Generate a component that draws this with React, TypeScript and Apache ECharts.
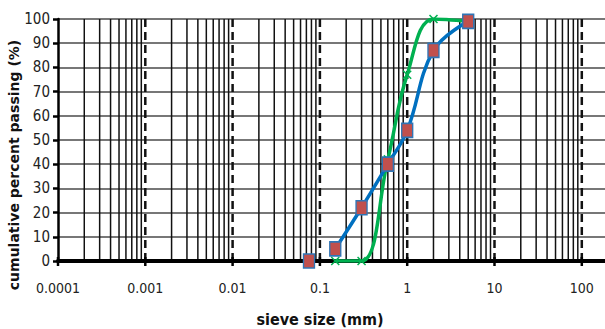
import React, { useEffect, useRef } from "react";
import * as echarts from "echarts";

// Blue curve (squares)
const sieveBlue = [0.15, 0.3, 0.6, 1, 2, 5];
const passBlue = [5, 22, 40, 54, 87, 99];
// Isolated blue point (not connected)
const sieveBlueLone = [0.075];
const passBlueLone = [0];
// Green curve (x markers)
const sieveGreen = [0.15, 0.3, 0.6, 1, 2, 5];
const passGreen = [0, 0, 42, 77, 100, 99];

const yTicks = { min: 0, max: 100, interval: 10 };
const decades = [0.0001, 0.001, 0.01, 0.1, 1, 10, 100];
const minorMultipliers = [2, 3, 4, 5, 6, 7, 8, 9];

const narrow = "'Liberation Sans Narrow', 'DejaVu Sans Condensed', sans-serif";

export default function App() {
  const ref = useRef<HTMLDivElement>(null);
  useEffect(() => {
    if (!ref.current) return;
    const chart = echarts.init(ref.current, null, { renderer: "svg" });

    // [value, y(unused), kind] kind: 0 minor gridline, 1 decade gridline, 2 decade tick only
    const gridData: number[][] = [];
    decades.forEach((d, i) => {
      if (i > 0) gridData.push([d, 50, 1]);
      gridData.push([d, 50, 2]);
      if (i < decades.length - 1) {
        minorMultipliers.forEach((m) => gridData.push([Number((d * m).toPrecision(6)), 50, 0]));
      }
    });

    const zip = (xs: number[], ys: number[]) => xs.map((x, i) => [x, ys[i]]);

    chart.setOption({
      animation: false,
      backgroundColor: "#fff",
      grid: { left: 58, top: 19, right: 0, bottom: 68 },
      xAxis: {
        type: "log",
        logBase: 10,
        min: 0.0001,
        max: 184.4,
        axisLine: { show: true, lineStyle: { color: "#000", width: 4 } },
        axisTick: { show: false },
        axisLabel: {
          margin: 20,
          fontSize: 14,
          fontFamily: narrow,
          color: "#222",
          showMaxLabel: false,
          formatter: (v: number) => {
            const r = Number(v.toPrecision(6));
            const l = Math.log10(r);
            return Math.abs(l - Math.round(l)) < 1e-6 ? String(r) : "";
          },
        },
        splitLine: { show: false },
      },
      yAxis: {
        type: "value",
        min: yTicks.min,
        max: yTicks.max,
        interval: yTicks.interval,
        axisLine: { show: true, lineStyle: { color: "#000", width: 2.5 } },
        axisTick: { show: true, length: 5, lineStyle: { color: "#000", width: 2.5 } },
        axisLabel: { margin: 8, fontSize: 15, fontFamily: narrow, color: "#222" },
        splitLine: { show: true, lineStyle: { color: "#4a4a4a", width: 1.5 } },
      },
      graphic: [
        {
          type: "text",
          x: 14,
          y: 165,
          rotation: Math.PI / 2,
          style: {
            text: "cumulative percent passing (%)",
            font: "bold 14px 'DejaVu Sans', sans-serif",
            fill: "#111",
            textAlign: "center",
            textVerticalAlign: "middle",
          },
        },
        {
          type: "text",
          x: 320,
          y: 319,
          style: {
            text: "sieve size (mm)",
            font: "bold 16px " + narrow,
            fill: "#111",
            textAlign: "center",
            textVerticalAlign: "middle",
          },
        },
      ],
      series: [
        {
          type: "custom",
          z: 1,
          silent: true,
          encode: { x: 0, y: 1 },
          data: gridData,
          renderItem: (params: any, api: any) => {
            const v = api.value(0);
            const kind = api.value(2);
            const top = api.coord([v, 100]);
            const bot = api.coord([v, 0]);
            if (kind === 2) {
              return {
                type: "line",
                shape: { x1: bot[0], y1: bot[1] - 4, x2: bot[0], y2: bot[1] + 5 },
                style: { stroke: "#000", lineWidth: 2.5 },
              };
            }
            return {
              type: "line",
              shape: { x1: top[0], y1: top[1], x2: bot[0], y2: bot[1] - 2 },
              style: {
                stroke: "#111",
                lineWidth: kind === 1 ? 2.5 : 1.5,
                lineDash: kind === 1 ? [8, 5] : null,
              },
            };
          },
        },
        {
          type: "line",
          z: 3,
          data: zip(sieveGreen, passGreen),
          smooth: 0.4,
          symbol: "path://M0,0L10,10M10,0L0,10",
          symbolSize: 8,
          lineStyle: { color: "#00b050", width: 3.5 },
          itemStyle: { color: "#00b050", borderColor: "#00b050", borderWidth: 1.5 },
        },
        {
          type: "line",
          z: 4,
          data: zip(sieveBlue, passBlue),
          smooth: 0.4,
          symbol: "rect",
          symbolSize: [11, 14],
          lineStyle: { color: "#0070c0", width: 3.5 },
          itemStyle: { color: "#c0504d", borderColor: "#2e75b6", borderWidth: 1.5, opacity: 1 },
        },
        {
          type: "scatter",
          z: 4,
          data: zip(sieveBlueLone, passBlueLone),
          symbol: "rect",
          symbolSize: [11, 14],
          itemStyle: { color: "#c0504d", borderColor: "#2e75b6", borderWidth: 1.5, opacity: 1 },
        },
      ],
    });
    return () => chart.dispose();
  }, []);
  return (
    <div
      ref={ref}
      style={{ position: "fixed", left: 0, top: 0, width: 605, height: 329, background: "#fff" }}
    />
  );
}
